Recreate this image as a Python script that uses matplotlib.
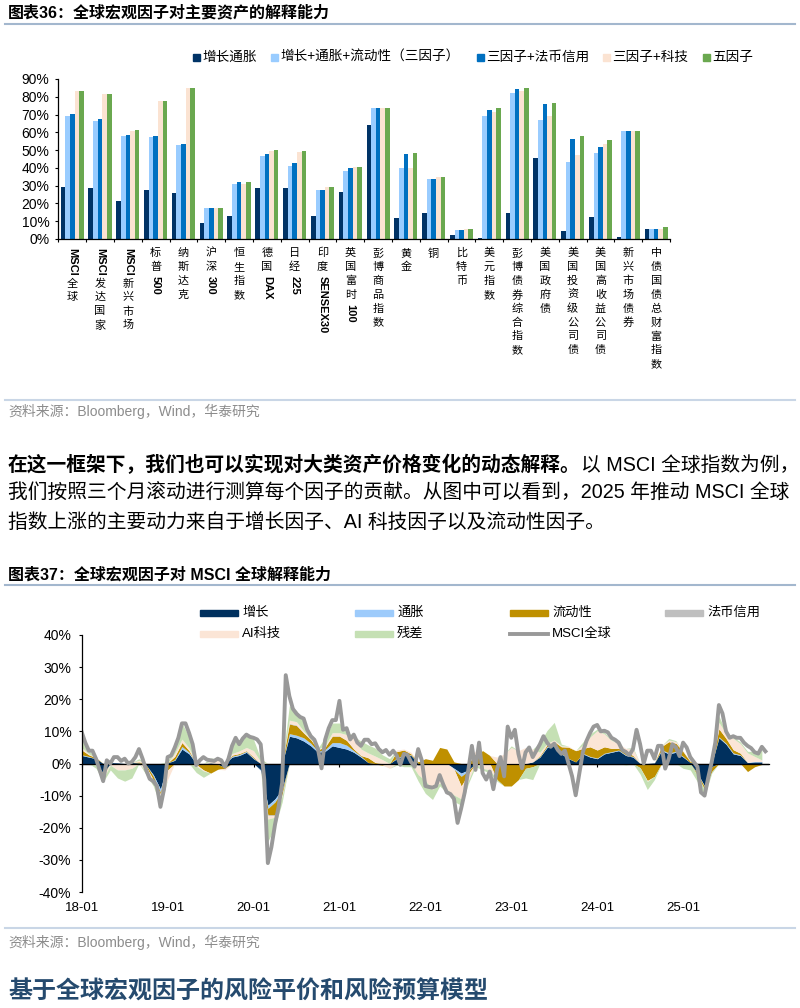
import re

import matplotlib
matplotlib.use("Agg")
import matplotlib.pyplot as plt
import matplotlib.patches as mpatches
from matplotlib.lines import Line2D
import numpy as np

W, H = 800, 1008
plt.rcParams["font.family"] = ["Liberation Sans", "Noto Sans CJK SC"]
plt.rcParams["axes.unicode_minus"] = False

# ---------------- chart 36: explanatory power per asset ----------------
assets = ["MSCI全球", "MSCI发达国家", "MSCI新兴市场", "标普500", "纳斯达克", "沪深300",
          "恒生指数", "德国DAX", "日经225", "印度SENSEX30", "英国富时100", "彭博商品指数",
          "黄金", "铜", "比特币", "美元指数", "彭博债券综合指数", "美国政府债",
          "美国投资级公司债", "美国高收益公司债", "新兴市场债券", "中债国债总财富指数"]
growth_inflation = [29.4, 28.5, 21.4, 27.8, 26.1, 8.8, 12.7, 28.5, 28.9, 12.7, 26.4, 64.1,
                    12.0, 14.8, 2.2, 0.3, 14.8, 45.8, 4.7, 12.6, 1.3, 5.6]
three_factor = [69.2, 66.2, 57.8, 57.2, 52.9, 17.4, 31.1, 46.9, 41.0, 27.4, 38.0, 73.5,
                40.0, 34.0, 5.2, 69.4, 82.3, 67.0, 43.5, 48.6, 61.0, 5.6]
three_plus_fiat = [70.1, 67.3, 58.7, 57.8, 53.4, 17.4, 31.9, 48.0, 42.6, 27.4, 39.8, 73.5,
                   47.8, 34.0, 5.2, 72.4, 84.6, 76.0, 56.3, 52.0, 61.0, 5.6]
three_plus_tech = [83.2, 81.6, 60.9, 77.8, 84.9, 17.4, 31.1, 49.7, 48.8, 29.0, 40.3, 73.5,
                   40.0, 34.7, 5.6, 71.6, 83.0, 69.0, 47.4, 53.4, 61.0, 5.6]
five_factor = [83.2, 81.6, 61.1, 77.8, 84.9, 17.4, 31.9, 50.0, 49.3, 29.0, 40.5, 73.5,
               48.6, 34.9, 5.8, 73.7, 85.0, 76.7, 58.0, 55.7, 61.0, 6.5]
bar_names = ["增长通胀", "增长+通胀+流动性（三因子）", "三因子+法币信用", "三因子+科技", "五因子"]
bar_colors = ["#003366", "#99CCFF", "#0070C0", "#FBE3D2", "#6AA84F"]

# ---------------- chart 37: MSCI world decomposition ----------------
year_labels = ["18-01", "19-01", "20-01", "21-01", "22-01", "23-01", "24-01", "25-01"]
# monthly factor contributions (%), 2018-01 .. 2025-12
growth = [2.5, 2.0, 1.5, -3.0, 0.3, 0.2, 0.0, 0.3, 0.2, -0.5, -3.5, -8.0,
          0.2, 1.0, 4.5, 3.0, 0.0, 0.0, 0.2, -0.3, -1.2, 2.0, 2.5, 3.5,
          1.5, -2.0, -13.0, -11.0, -8.0, 8.5, 8.0, 7.0, 5.5, 3.5, 3.8, 5.5,
          5.0, 4.5, 3.5, 2.0, 0.3, 0.0, -0.2, 0.0, 1.5, 2.5, 2.5, -0.5,
          -0.3, -0.2, 0.0, 0.0, -1.5, -3.0, -2.0, 0.0, 0.0, 0.0, 0.0, 0.0,
          0.0, 0.0, 0.0, 0.5, 2.0, 5.0, 6.0, 3.0, 1.5, 0.5, 3.0, 2.0,
          1.5, 3.0, 3.5, 4.0, 2.5, 2.0, -0.3, -0.3, 0.2, 4.0, 3.0, 3.5,
          2.0, 0.3, -3.0, -7.0, -1.0, 8.0, 6.0, 3.0, 2.5, 0.3, 0.5, 0.5]
inflation = [0.2, 0.2, 0.0, -0.2, 0.0, 0.0, 0.0, 0.0, 0.0, 0.0, -0.5, -1.0,
             0.0, 0.2, 0.8, 0.5, 0.0, 0.0, 0.0, 0.0, 0.0, 0.3, 0.3, 0.3,
             0.2, -0.2, -1.0, -1.0, -0.5, 0.8, 0.8, 1.0, 0.8, 0.3, 0.5, 1.0,
             1.5, 1.2, 0.5, 0.3, -0.5, -0.2, 0.0, 0.0, 0.2, 0.2, 0.2, 0.0,
             0.0, 0.0, 0.0, 0.0, -0.3, -1.0, -0.3, 0.0, 0.0, 0.0, 0.0, 0.0,
             0.0, 0.0, 0.0, 0.0, 0.2, 0.3, 0.3, 0.2, 0.1, 0.0, 0.2, 0.2,
             0.2, 0.2, 0.2, 0.2, 0.2, 0.2, 0.0, 0.0, 0.0, 0.3, 0.3, 0.3,
             0.2, 0.0, -0.2, -0.3, 0.0, 0.3, 0.3, 0.3, 0.2, 0.0, 0.2, 0.1]
liquidity = [1.5, 0.5, 0.3, -0.5, 0.0, 0.0, 0.0, 0.0, 0.3, -0.5, -1.0, -0.5,
             -2.0, 1.0, 1.2, 0.5, -0.3, -2.0, -3.0, -1.5, -0.3, 0.3, 0.3, 0.2,
             0.3, 0.0, -2.0, -4.0, -1.0, 3.0, 3.0, 1.5, 1.1, 0.5, 0.8, 2.0,
             2.0, 1.5, 0.5, 0.2, 1.5, 0.3, -0.3, 0.0, 2.0, 1.5, 0.3, 0.5,
             1.5, 1.0, 5.0, 4.5, 0.5, -3.0, -1.0, 3.0, 4.0, 2.5, -5.0, -7.0,
             -7.0, -5.0, -1.5, -1.0, 0.3, 0.5, 0.5, 2.0, 3.5, 3.5, 1.5, 3.0,
             2.5, 2.0, 1.0, 0.5, 1.0, 0.3, -1.0, -5.0, -4.0, 1.0, 3.5, 2.5,
             1.5, 0.3, -0.5, -0.8, -1.5, 2.5, 1.5, 1.0, 0.5, -2.5, -1.0, -0.3]
fiat_credit = [0.0, 0.0, 0.0, 0.0, 0.0, 0.0, 0.0, 0.0, 0.0, 0.0, 0.0, -0.2,
               0.0, 0.0, 0.1, 0.0, 0.0, 0.0, 0.0, 0.0, 0.0, 0.0, 0.0, 0.0,
               0.0, 0.0, -0.3, -0.2, 0.0, 0.2, 0.2, 0.1, 0.0, 0.0, 0.0, 0.1,
               0.1, 0.0, 0.0, 0.0, 0.0, 0.0, 0.0, 0.0, 0.0, 0.0, 0.0, 0.0,
               0.0, 0.0, 0.0, 0.0, 0.0, 0.0, 0.0, 0.0, 0.0, 0.0, 0.0, 0.0,
               0.0, 0.0, 0.0, 0.0, 0.0, 0.0, 0.0, 0.0, 0.0, 0.0, 0.0, 0.0,
               0.0, 0.0, 0.0, 0.0, 0.0, 0.0, 0.0, 0.0, 0.0, 0.0, 0.0, 0.0,
               0.0, 0.0, 0.0, 0.0, 0.0, 0.0, 0.0, 0.0, 0.0, 0.0, 0.0, 0.0]
ai_tech = [0.8, 0.3, -0.5, -1.0, -0.5, -2.0, -2.0, -1.5, 0.5, -1.5, -1.0, -0.5,
           -3.0, 1.0, 1.0, 0.8, -0.5, -0.3, 0.5, 1.0, -0.5, 0.5, 0.8, 1.0,
           2.0, 0.5, -1.0, -0.5, -0.5, 1.0, 1.0, 0.5, 0.3, 0.2, 0.5, 1.0,
           1.0, 1.8, 3.5, 2.0, 1.5, 2.0, 1.2, -1.5, 0.5, 0.3, 0.5, -3.0,
           -5.0, -8.0, -6.0, -8.0, -8.0, -4.0, -2.0, 1.0, -1.5, -2.0, 2.0, 3.0,
           5.0, 4.0, 5.0, 4.0, 1.0, 0.5, 0.5, 0.3, 0.3, 0.0, 1.0, 3.0,
           6.0, 4.0, 2.5, 1.5, 1.0, 2.0, 0.0, -0.3, 0.0, 0.3, 0.5, 0.5,
           0.3, 0.0, 0.0, 0.0, 0.0, 2.0, 1.5, 3.5, 3.0, 3.0, 1.5, 0.5]
residual = [4.5, 1.0, -1.0, -1.0, -1.5, -2.5, -3.5, -3.0, 0.5, -1.0, -1.0, -3.0,
            0.5, 2.0, 5.0, 3.5, -2.0, -2.0, 1.0, 0.5, 0.0, 3.5, 3.5, 4.0,
            3.5, 1.0, -7.0, -3.0, -2.0, 4.5, 3.5, 3.0, 1.0, 0.3, 2.5, 3.0,
            3.0, 1.0, 0.5, 2.5, 2.5, 2.5, 1.5, 1.5, -0.5, -1.0, -1.0, -2.0,
            -4.0, -3.0, -1.0, -1.0, -2.0, -2.0, -1.0, -1.0, -0.5, -1.0, -0.5, 0.0,
            0.5, 0.0, -3.0, -4.0, 3.0, 4.0, 5.5, 0.5, 0.0, 0.0, 1.0, 1.0,
            0.5, 0.5, 0.3, 0.0, -0.5, 0.5, -2.0, -2.5, -1.0, 0.0, 0.5, 0.3,
            -1.5, -2.0, -2.0, -2.0, -0.5, 2.0, 0.5, 0.5, 0.5, 0.5, 1.5, 3.0]
# MSCI world 3-month rolling return (%), twice a month
msci_world = [9.8, 6.5, 4.0, 4.0, 1.5, -2.0, -5.5, 1.0, 0.0, 2.0, 2.0, 0.8,
              1.5, 0.0, 0.5, 2.0, 4.5, 1.5, -2.0, -4.8, -5.5, -7.0, -13.5, -8.0,
              2.0, 2.5, 5.0, 8.0, 12.5, 12.5, 9.5, 6.0, -0.5, 1.0, 2.0, 1.2,
              1.0, 0.8, 1.5, 1.0, -1.0, 1.5, 5.5, 8.0, 6.0, 7.8, 9.0, 8.3,
              8.0, 7.5, 6.0, -5.0, -31.0, -26.0, -19.0, -13.5, -6.0, 27.5, 21.0, 17.0,
              15.5, 14.5, 14.0, 10.5, 8.5, 7.4, 4.5, -1.5, 7.4, 11.0, 13.5, 13.5,
              19.5, 10.5, 11.0, 7.5, 9.0, 6.5, 5.5, 7.4, 7.4, 6.0, 6.3, 4.5,
              3.5, 4.2, 2.7, 4.0, 2.5, -0.4, 3.0, 2.7, 0.5, -1.0, 4.5, 1.0,
              -7.0, -7.3, -7.5, -7.0, -3.6, -6.5, -9.0, -9.5, -11.0, -18.5, -14.0, -9.0,
              -2.0, 5.5, -2.0, 6.5, -3.0, -5.0, -2.5, -8.0, -2.0, 2.0, -4.0, 11.5,
              8.0, 10.5, 3.0, -1.5, 3.5, 5.0, 2.0, 4.0, 6.0, 8.5, 6.5, 5.2,
              6.2, 4.2, 3.0, 4.0, 0.0, -4.0, -9.9, -3.1, 3.5, 7.0, 9.5, 11.5,
              12.0, 10.0, 10.2, 9.7, 8.0, 7.4, 6.5, 4.2, 3.6, 2.6, 4.5, 10.5,
              6.0, 0.0, 4.0, 4.0, 1.5, 5.5, 5.5, -1.6, 1.5, 6.0, 5.0, 2.3,
              6.5, 5.0, 2.0, 0.5, -1.0, -9.0, -10.0, -4.5, 0.5, 6.5, 18.2, 15.6,
              10.0, 8.0, 8.5, 8.0, 8.0, 6.5, 5.5, 4.8, 3.5, 3.1, 5.2, 3.8]
factor_names = ["增长", "通胀", "流动性", "法币信用", "AI科技", "残差"]
factor_colors = ["#00305E", "#9DCBFB", "#BF9000", "#BFBFBF", "#FBE5D6", "#C5E0B4"]
line_color = "#999999"

# ---------------- text ----------------
title36 = "图表36：全球宏观因子对主要资产的解释能力"
title37 = "图表37：全球宏观因子对 MSCI 全球解释能力"
source = "资料来源：Bloomberg，Wind，华泰研究"
para_bold = "在这一框架下，我们也可以实现对大类资产价格变化的动态解释。"
para_rest = "以 MSCI 全球指数为例，"
para_line2 = "我们按照三个月滚动进行测算每个因子的贡献。从图中可以看到，2025 年推动 MSCI 全球"
para_line3 = "指数上涨的主要动力来自于增长因子、AI 科技因子以及流动性因子。"
heading = "基于全球宏观因子的风险平价和风险预算模型"


def fx(x):
    return x / W


def fy(y):
    return 1 - y / H


def rule(y, color):
    fig.add_artist(Line2D([fx(5), fx(795)], [fy(y), fy(y)], color=color, lw=1.5,
                          transform=fig.transFigure))


def vertical_label(ax, xpos, label, renderer):
    """Excel-style stacked label: CJK upright, latin runs rotated."""
    offset = 6.5
    for run in re.findall(r"[A-Za-z0-9]+|.", label):
        if run.isascii():
            t = ax.annotate(run, xy=(xpos, 0), xycoords=ax.get_xaxis_transform(),
                            xytext=(0, -offset), textcoords="offset points",
                            rotation=-90, ha="center", va="top", fontsize=8,
                            fontweight="bold", family=["Liberation Sans"])
            offset += t.get_window_extent(renderer).height * 72 / fig.dpi + 2.0
        else:
            ax.annotate(run, xy=(xpos, 0), xycoords=ax.get_xaxis_transform(),
                        xytext=(0, -offset), textcoords="offset points",
                        ha="center", va="top", fontsize=8, family=["Noto Sans CJK SC"])
            offset += 10.0


fig = plt.figure(figsize=(W / 100, H / 100), dpi=100)
renderer = fig.canvas.get_renderer()

# header of chart 36
fig.text(fx(8), fy(13), title36, fontsize=11.5, fontweight="bold", va="center")
rule(24, "#A3B7CE")

# legend of chart 36
legend1_x = [193, 271, 477, 603, 703]
for name, color, lx in zip(bar_names, bar_colors, legend1_x):
    fig.add_artist(mpatches.Rectangle((fx(lx), fy(61)), 7 / W, 7 / H, color=color,
                                      transform=fig.transFigure))
    fig.text(fx(lx + 9), fy(57), name, fontsize=9.8, va="center")

# bar chart
ax1 = fig.add_axes([fx(58.3), fy(239), (670 - 58.3) / W, 160 / H])
x = np.arange(len(assets))
bw = 0.166
for k, (vals, color) in enumerate(zip([growth_inflation, three_factor, three_plus_fiat,
                                       three_plus_tech, five_factor], bar_colors)):
    ax1.bar(x + (k - 2) * bw, vals, width=bw, color=color, edgecolor="none")
ax1.set_xlim(-0.5, len(assets) - 0.5)
ax1.set_ylim(0, 90)
ax1.set_yticks(range(0, 91, 10))
ax1.set_yticklabels([f"{v}%" for v in range(0, 91, 10)])
ax1.set_xticks(np.arange(len(assets) + 1) - 0.5)
ax1.set_xticklabels([])
ax1.tick_params(direction="out", length=2.5, width=0.8, labelsize=10, pad=4)
for side in ["top", "right"]:
    ax1.spines[side].set_visible(False)
for side in ["left", "bottom"]:
    ax1.spines[side].set_linewidth(0.9)
for i, name in enumerate(assets):
    vertical_label(ax1, i, name, renderer)

rule(400, "#C9D6E6")
fig.text(fx(8), fy(411), source, fontsize=10, color="#8C8C8C", va="center")

# paragraph
t = fig.text(fx(8), fy(465), para_bold, fontsize=14.2, fontweight="bold", va="center")
bb = t.get_window_extent(renderer)
fig.text(bb.x1 / W, fy(465), para_rest, fontsize=14.2, va="center")
fig.text(fx(8), fy(493), para_line2, fontsize=14.2, va="center")
fig.text(fx(8), fy(522), para_line3, fontsize=14.2, va="center")

# header of chart 37
fig.text(fx(8), fy(575), title37, fontsize=11.5, fontweight="bold", va="center")
rule(585, "#A3B7CE")

# legend of chart 37
col_x = [200, 355, 510, 665]
row_y = [613, 634]
legend_items = [(factor_names[0], factor_colors[0], 0, 0), (factor_names[1], factor_colors[1], 1, 0),
                (factor_names[2], factor_colors[2], 2, 0), (factor_names[3], factor_colors[3], 3, 0),
                (factor_names[4], factor_colors[4], 0, 1), (factor_names[5], factor_colors[5], 1, 1)]
for name, color, c, r in legend_items:
    fig.add_artist(mpatches.Rectangle((fx(col_x[c]), fy(row_y[r] + 3)), 38 / W, 6 / H,
                                      color=color, transform=fig.transFigure))
    fig.text(fx(col_x[c] + 42), fy(row_y[r]), name, fontsize=9.5, va="center")
fig.add_artist(Line2D([fx(col_x[2]), fx(col_x[2] + 38)], [fy(row_y[1]), fy(row_y[1])],
                      color=line_color, lw=2.8, transform=fig.transFigure))
fig.text(fx(col_x[2] + 42), fy(row_y[1]), "MSCI全球", fontsize=9.5, va="center")

# stacked area chart
ax2 = fig.add_axes([fx(81.7), fy(892), (769 - 81.7) / W, 257 / H])
xm = np.arange(len(growth))
pos_base = np.zeros(len(growth))
neg_base = np.zeros(len(growth))
for vals, color in zip([growth, inflation, liquidity, fiat_credit, ai_tech, residual],
                       factor_colors):
    v = np.asarray(vals, dtype=float)
    pos = np.clip(v, 0, None)
    neg = np.clip(v, None, 0)
    ax2.fill_between(xm, pos_base, pos_base + pos, color=color, lw=0)
    ax2.fill_between(xm, neg_base, neg_base + neg, color=color, lw=0)
    pos_base += pos
    neg_base += neg
xl = np.arange(len(msci_world)) / 2
ax2.plot(xl, msci_world, color=line_color, lw=2.8, solid_joinstyle="round")
ax2.axhline(0, color="black", lw=0.9, zorder=1.5)

ax2.set_xlim(0, 96)
ax2.set_ylim(-40, 40)
ax2.set_yticks(range(-40, 41, 10))
ax2.set_yticklabels([f"{v}%" for v in range(-40, 41, 10)])
year_ticks = np.arange(len(year_labels)) * 12
ax2.set_xticks(year_ticks)
ax2.set_xticklabels(year_labels)
ax2.tick_params(axis="x", length=0, pad=7, labelsize=9.5)
ax2.tick_params(axis="y", direction="out", length=2.5, width=0.8, labelsize=10, pad=5)
for side in ["top", "right", "bottom"]:
    ax2.spines[side].set_visible(False)
ax2.spines["left"].set_linewidth(0.9)
secax = ax2.secondary_xaxis(0.5)
secax.set_alignment("bottom")
secax.set_xticks(year_ticks)
secax.tick_params(axis="x", direction="out", length=2.5, width=0.8, labelbottom=False,
                  labeltop=False)
secax.spines["bottom"].set_linewidth(0.9)

rule(928, "#C9D6E6")
fig.text(fx(8), fy(942), source, fontsize=10, color="#8C8C8C", va="center")

fig.text(fx(8), fy(992), heading, fontsize=17.3, fontweight="bold", color="#254A6E",
         va="center")

fig.savefig("out.png", dpi=100)
